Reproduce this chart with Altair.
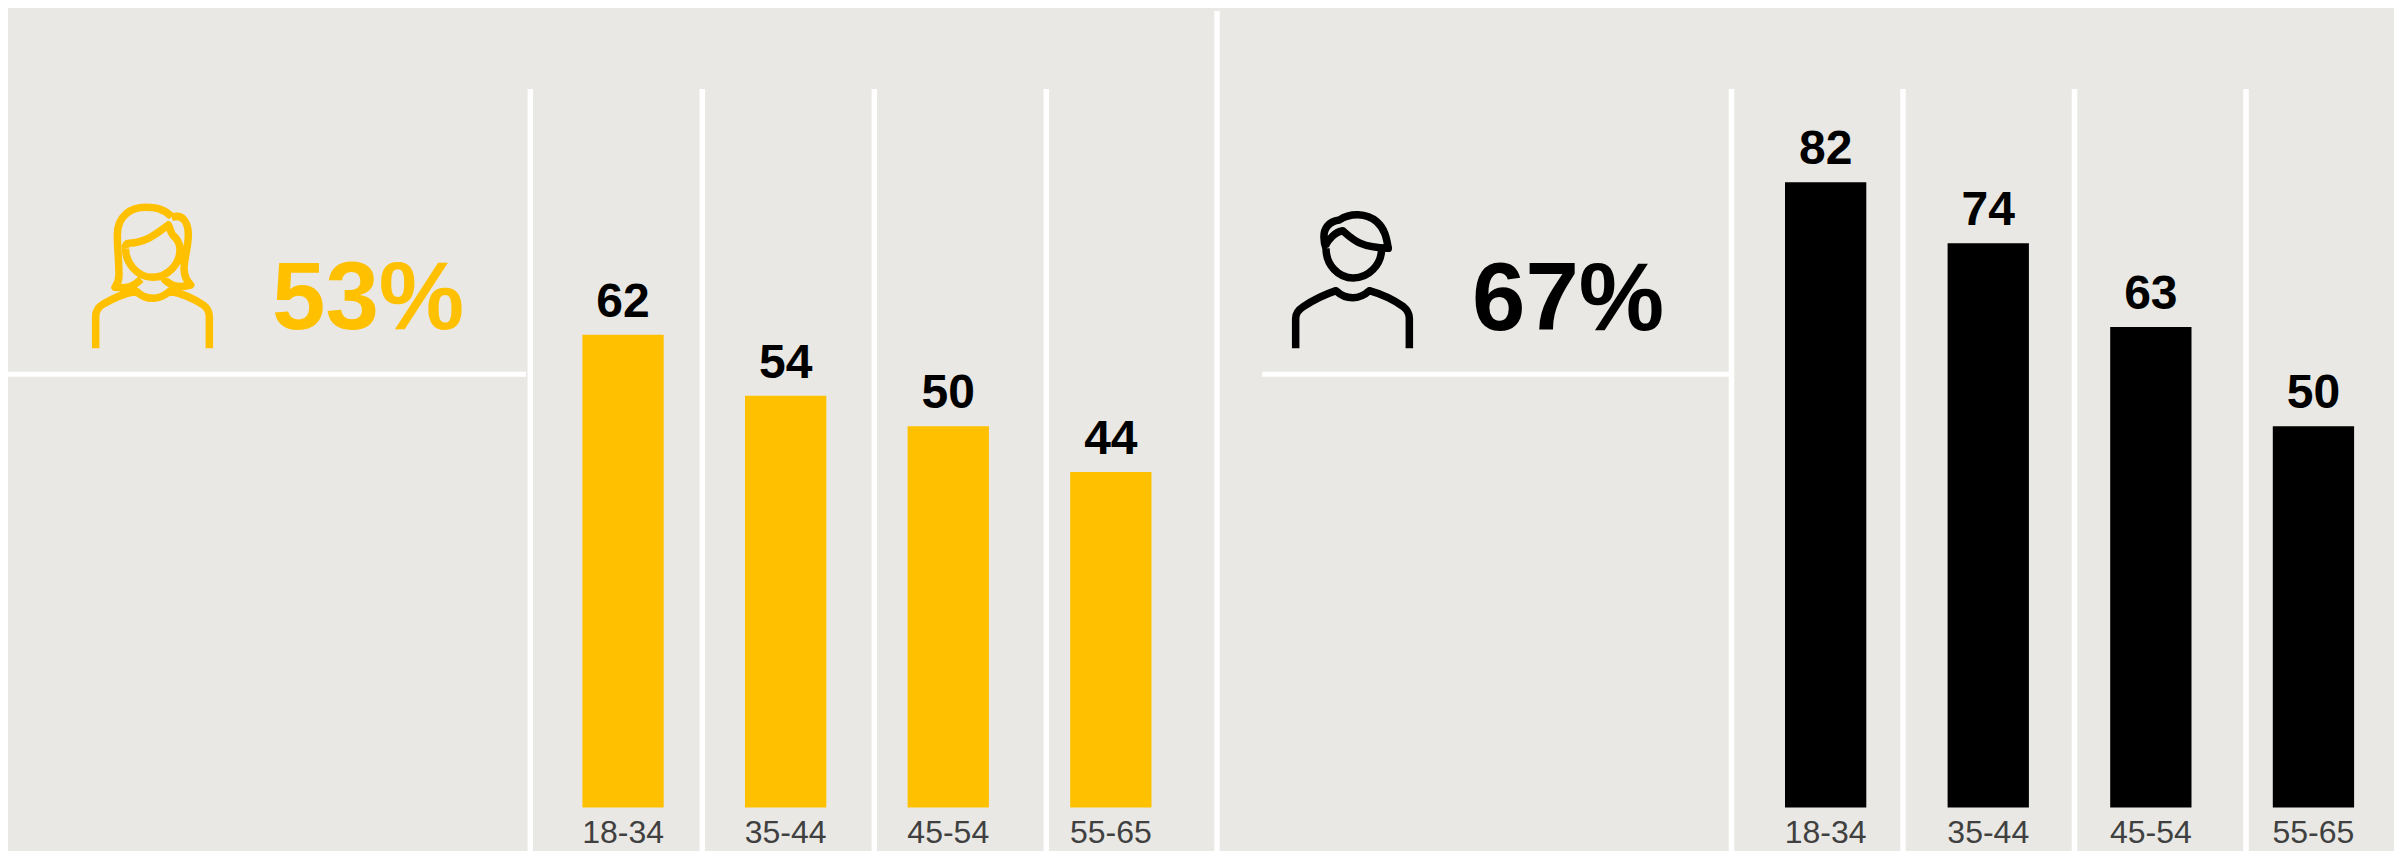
import altair as alt
import pandas as pd

ages = ["18-34", "35-44", "45-54", "55-65"]
women = [62, 54, 50, 44]
men = [82, 74, 63, 50]
women_total = "53%"
men_total = "67%"

BG = "#E9E8E4"
AMBER = "#FFC000"
BLACK = "#000000"
GREY = "#404040"
WHITE = "#FFFFFF"
W, H = 2386, 843
FONT = "Liberation Sans"
BASE_Y = 799.4
PX_PER_UNIT = 7.625
y_scale = alt.Scale(domain=[0, 100], range=[BASE_Y, BASE_Y - 100 * PX_PER_UNIT])

WOMAN = ("M107 505L107 410Q107 385 130 372Q175 345 228 333Q250 355 278 355Q305 355 330 333Q385 345 430 375Q448 388 448 410L448 505"
         "M197 205C195 245 230 292 278 292C325 292 360 250 360 210C360 190 350 175 338 165C330 155 330 140 325 135C290 160 265 185 207 190Q195 190 197 205"
         "M335 110C310 85 285 82 258 82C215 82 172 105 172 165C172 200 177 250 177 285Q177 305 165 322Q190 325 210 320Q225 315 243 298"
         "M335 112C370 100 385 130 385 165C385 200 372 240 372 265Q372 295 392 315Q365 322 345 318Q325 312 310 295")
MAN = ("M107 475L107 385Q107 365 130 350Q175 320 228 302Q250 323 278 323Q305 323 328 302Q385 318 430 350Q448 365 448 385L448 475"
       "M198 175C198 225 235 264 280 264C325 264 365 225 365 175"
       "M197 165C205 150 225 125 248 122C280 150 300 172 385 175C380 150 378 120 350 95C320 68 270 68 238 90C205 95 190 115 192 145Q192 160 198 175")


def panel(values, color, bar_start, rule_range):
    df = pd.DataFrame({"age": ages, "value": values})
    step = 162.6
    x = alt.X("age:N", axis=None, sort=ages,
              scale=alt.Scale(domain=ages, range=[bar_start, bar_start + 4 * step],
                              paddingInner=0.5, paddingOuter=0.25))
    y = alt.Y("value:Q", axis=None, scale=y_scale)
    base = alt.Chart(df)
    bars = base.mark_bar(color=color).encode(x=x, y=y, y2=alt.Y2(datum=0))
    vals = base.mark_text(font=FONT, fontWeight="bold", fontSize=48, color=BLACK,
                          baseline="alphabetic", dy=-18).encode(x=x, y=y, text="value:Q")
    labels = base.mark_text(font=FONT, fontSize=32, color=GREY, baseline="alphabetic",
                            dy=36).encode(x=x, y=alt.Y(datum=0, axis=None, scale=y_scale), text="age:N")
    rules = base.mark_rule(color=WHITE, strokeWidth=5.5).encode(
        x=alt.X("age:N", axis=None, sort=ages,
                scale=alt.Scale(type="point", padding=0, domain=ages, range=rule_range)),
        y=alt.value(81), y2=alt.value(H))
    return [rules, bars, vals, labels]


def fixed_text(text, px, py, color):
    return alt.Chart(pd.DataFrame({"t": [text]})).mark_text(
        font=FONT, fontWeight="bold", fontSize=96, color=color, align="left", baseline="alphabetic"
    ).encode(x=alt.value(px), y=alt.value(py), text="t:N")


def icon(path, px, py, color):
    return alt.Chart(pd.DataFrame({"i": [0]})).mark_point(
        shape=path, size=4 / 9, filled=False, stroke=color, strokeWidth=7.5, opacity=1,
        strokeJoin="round"
    ).encode(x=alt.value(px), y=alt.value(py))


def hrule(x1, x2):
    return alt.Chart(pd.DataFrame({"i": [0]})).mark_rule(color=WHITE, strokeWidth=5).encode(
        x=alt.value(x1), x2=alt.value(x2), y=alt.value(366.3))


divider = alt.Chart(pd.DataFrame({"i": [0]})).mark_rule(color=WHITE, strokeWidth=5.5).encode(
    x=alt.value(1209), y=alt.value(3), y2=alt.value(H))

layers = (
    panel(women, AMBER, 533.75, [522.3, 1038.3])
    + panel(men, BLACK, 1736.35, [1723.5, 2238])
    + [divider, hrule(0, 518), hrule(1254, 1721),
       fixed_text(women_total, 264, 321, AMBER), fixed_text(men_total, 1464, 322, BLACK),
       icon(WOMAN, 52, 172, AMBER), icon(MAN, 1252, 182, BLACK)]
)

chart = alt.layer(*layers).resolve_scale(x="independent", y="shared").properties(
    width=W, height=H, background=BG, padding=0,
    autosize=alt.AutoSizeParams(type="none", contains="padding"),
).configure_view(stroke=None)

chart.save("out.html", embed_options={"renderer": "svg", "actions": False})
